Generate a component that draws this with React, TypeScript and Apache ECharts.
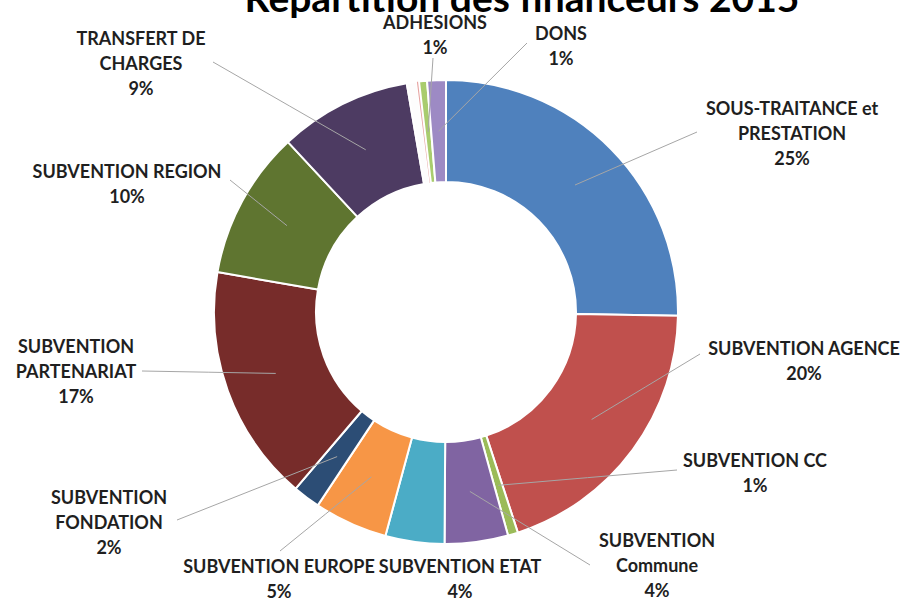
import React, { useEffect, useRef } from "react";
import * as echarts from "echarts";

// ---- data ----
const title = "Répartition des financeurs 2015";
const categories = [
  "SOUS-TRAITANCE et\nPRESTATION",
  "SUBVENTION AGENCE",
  "SUBVENTION CC",
  "SUBVENTION\nCommune",
  "SUBVENTION ETAT",
  "SUBVENTION EUROPE",
  "SUBVENTION\nFONDATION",
  "SUBVENTION\nPARTENARIAT",
  "SUBVENTION REGION",
  "TRANSFERT DE\nCHARGES",
  "",
  "",
  "ADHESIONS",
  "DONS",
];
const values = [25.2, 19.7, 0.7, 4.4, 4.1, 5.1, 1.9, 16.5, 10.3, 9.2, 0.7, 0.15, 0.55, 1.3];
const colors = [
  "#4f81bd", "#c0504d", "#9bbb59", "#8064a2", "#4bacc6", "#f79646", "#2c4d75",
  "#772c2a", "#5f7530", "#4d3b62", "#fdfdfd", "#e6a3a1", "#a9cc6e", "#9d8ac4",
];

// ---- layout (label block centre, leader-line end point) ----
const labelLayouts: ({ x: number; y: number; ex?: number; ey?: number } | null)[] = [
  { x: 792, y: 133, ex: 697, ey: 132 },
  { x: 804, y: 360, ex: 700, ey: 354 },
  { x: 755, y: 472, ex: 677, ey: 470 },
  { x: 657, y: 565, ex: 590, ey: 565 },
  { x: 460, y: 578 },
  { x: 279, y: 578, ex: 280, ey: 551 },
  { x: 109, y: 522, ex: 177, ey: 520 },
  { x: 76, y: 371, ex: 142, ey: 371 },
  { x: 127, y: 183, ex: 230, ey: 180 },
  { x: 141, y: 63, ex: 213, ey: 62 },
  null,
  null,
  { x: 435, y: 34, ex: 433, ey: 58 },
  { x: 561, y: 45, ex: 527, ey: 43 },
];

const CX = 446;
const CY = 312;
const R_IN = 130;
const R_OUT = 232;

export default function App() {
  const ref = useRef<HTMLDivElement>(null);
  useEffect(() => {
    if (!ref.current) return;
    const chart = echarts.init(ref.current, undefined, { renderer: "svg" });
    const donutData = categories.map((name, i) => ({
      name: name || "autre" + i,
      value: values[i],
      itemStyle: {
        color: colors[i],
        borderColor: "#ffffff",
        borderWidth: i === 11 ? 0 : 2,
      },
    }));
    const labelData = categories.map((name, i) => {
      const lay = labelLayouts[i];
      return {
        name: name || "autre" + i,
        value: values[i],
        label: { show: !!lay },
        labelLine: { show: !!(lay && lay.ex != null) },
      };
    });
    chart.setOption({
      animation: false,
      backgroundColor: "#ffffff",
      graphic: [
        {
          type: "text",
          x: 522,
          y: -3,
          style: {
            text: title,
            font: "bold 39px Lato",
            fill: "#000000",
            textAlign: "center",
            textVerticalAlign: "middle",
          },
        },
      ],
      series: [
        {
          type: "pie",
          center: [CX, CY],
          radius: [R_IN, R_OUT],
          startAngle: 90,
          clockwise: true,
          silent: true,
          label: { show: false },
          labelLine: { show: false },
          data: donutData,
          z: 2,
        },
        {
          type: "pie",
          center: [CX, CY],
          radius: [0, (R_IN + R_OUT) / 2],
          startAngle: 90,
          clockwise: true,
          silent: true,
          avoidLabelOverlap: false,
          itemStyle: { color: "rgba(0,0,0,0)", borderWidth: 0 },
          label: {
            position: "outside",
            formatter: (p: any) => p.name + "\n" + Math.round(p.percent) + "%",
            fontFamily: "Lato",
            fontWeight: "bold",
            fontSize: 18,
            lineHeight: 25,
            color: "#1f1f1f",
            align: "center",
          },
          labelLine: {
            show: true,
            lineStyle: { color: "#a6a6a6", width: 1 },
          },
          labelLayout: (params: any) => {
            const lay = labelLayouts[params.dataIndex];
            if (!lay) return {};
            const out: any = { x: lay.x, y: lay.y, align: "center", verticalAlign: "middle" };
            if (lay.ex != null && params.labelLinePoints) {
              const s = params.labelLinePoints[0];
              out.labelLinePoints = [
                [s[0], s[1]],
                [(s[0] + lay.ex) / 2, (s[1] + (lay.ey as number)) / 2],
                [lay.ex, lay.ey],
              ];
            }
            return out;
          },
          data: labelData,
          z: 3,
        },
      ],
    });
    return () => chart.dispose();
  }, []);
  return (
    <div
      ref={ref}
      style={{ position: "absolute", left: 0, top: 0, width: 904, height: 598 }}
    />
  );
}
